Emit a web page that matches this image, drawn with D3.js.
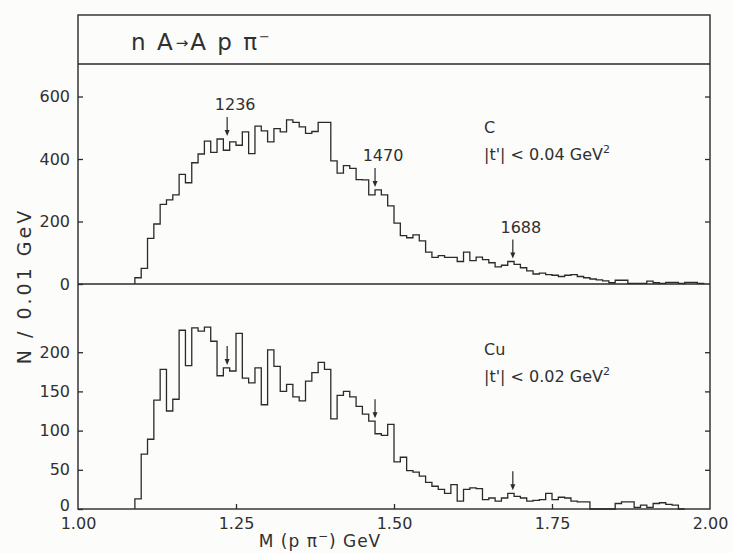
<!DOCTYPE html>
<html>
<head>
<meta charset="utf-8">
<script src="https://cdn.jsdelivr.net/npm/d3@7"></script>
<style>
  html, body { margin: 0; padding: 0; background: #fcfcfa; }
  svg { display: block; }
  text { font-family: "DejaVu Sans", "Liberation Sans", sans-serif; fill: #303030; }
</style>
</head>
<body>
<svg id="chart" width="733" height="553"></svg>
<script>
// Mass binning (GeV): lower edge of the first filled bin and the bin width
const firstBinLow = 1.09;
const binWidth = 0.01;

// Events per 0.01 GeV, carbon target, |t'| < 0.04 GeV^2 (bins from 1.09 GeV)
const carbonCounts = [
  20, 50, 146, 192, 255, 269, 285, 351, 324, 388,
  416, 457, 421, 464, 428, 455, 444, 487, 417, 505,
  490, 455, 497, 487, 525, 517, 503, 482, 488, 517,
  517, 394, 355, 379, 370, 334, 333, 285, 301, 285,
  250, 195, 155, 148, 157, 138, 102, 85, 91, 85,
  85, 72, 102, 75, 86, 78, 68, 55, 60, 72,
  63, 52, 42, 32, 35, 30, 28, 24, 28, 30,
  24, 20, 16, 13, 10, 4, 12, 12, 2, 2,
  2, 9, 4, 2, 5, 5, 2, 5, 5, 2
];

// Events per 0.01 GeV, copper target, |t'| < 0.02 GeV^2 (bins from 1.09 GeV)
const copperCounts = [
  13, 70, 89, 139, 178, 125, 140, 228, 183, 231,
  227, 232, 214, 170, 180, 176, 224, 167, 161, 180,
  133, 203, 182, 150, 159, 143, 138, 163, 174, 187,
  178, 115, 145, 150, 143, 131, 121, 112, 96, 94,
  108, 60, 66, 49, 47, 42, 34, 29, 25, 20,
  31, 10, 25, 27, 26, 12, 14, 10, 14, 20,
  16, 14, 10, 11, 12, 20, 12, 15, 14, 10,
  9, 9, 0, 0, 0, 0, 7, 9, 9, 2,
  5, 2, 7, 8, 6, 5, 0
];

// Axis ticks
const massTicks = [1.00, 1.25, 1.50, 1.75, 2.00];
const massTickLabels = ["1.00", "1.25", "1.50", "1.75", "2.00"];
const carbonTicks = [0, 200, 400, 600];
const copperTicks = [0, 50, 100, 150, 200];

// Marked resonance positions (MeV labels)
const resonanceMasses = [1.236, 1.470, 1.688];
const resonanceLabels = ["1236", "1470", "1688"];

const svg = d3.select("#chart");
const ink = "#2a2a2a";

const left = 78, right = 710;
const frameTop = 15, titleBottom = 64, middle = 284, bottom = 509;

const x = d3.scaleLinear().domain([1.0, 2.0]).range([left, right]);
const yTop = d3.scaleLinear().domain([0, 704]).range([middle, titleBottom]);
const yBot = d3.scaleLinear().domain([0, 287]).range([bottom, middle]);

// Step outline of a histogram
function histogramOutline(counts) {
  const pts = [[firstBinLow, 0]];
  counts.forEach((c, i) => {
    const lo = firstBinLow + i * binWidth;
    pts.push([lo, c], [lo + binWidth, c]);
  });
  pts.push([firstBinLow + counts.length * binWidth, 0]);
  return pts;
}

function drawHistogram(counts, yScale) {
  const line = d3.line().x(d => x(d[0])).y(d => yScale(d[1]));
  svg.append("path")
    .attr("d", line(histogramOutline(counts)))
    .attr("fill", "none")
    .attr("stroke", ink)
    .attr("stroke-width", 1.3)
    .attr("stroke-linejoin", "miter");
}

drawHistogram(carbonCounts, yTop);
drawHistogram(copperCounts, yBot);

// Frame, title box and panel divider
const frame = svg.append("g").attr("stroke", ink).attr("fill", "none");
frame.append("rect")
  .attr("x", left).attr("y", frameTop)
  .attr("width", right - left).attr("height", bottom - frameTop)
  .attr("stroke-width", 1.4);
frame.append("line")
  .attr("x1", left).attr("x2", right)
  .attr("y1", titleBottom).attr("y2", titleBottom)
  .attr("stroke-width", 1.4);
frame.append("line")
  .attr("x1", left).attr("x2", right)
  .attr("y1", middle).attr("y2", middle)
  .attr("stroke-width", 1.4);

// Vertical axes: inward ticks on both sides, labels on the left
function verticalAxes(scale, ticks, zeroLift) {
  const gl = svg.append("g")
    .attr("transform", `translate(${left},0)`)
    .call(d3.axisLeft(scale).tickValues(ticks).tickSize(-5).tickPadding(8).tickFormat(d3.format("d")));
  const gr = svg.append("g")
    .attr("transform", `translate(${right},0)`)
    .call(d3.axisRight(scale).tickValues(ticks.filter(t => t > 0)).tickSize(-5).tickFormat(""));
  [gl, gr].forEach(g => {
    g.select(".domain").remove();
    g.selectAll(".tick line").attr("stroke", ink).attr("stroke-width", 1.3);
  });
  gl.selectAll(".tick text")
    .attr("fill", "#303030")
    .style("font-size", "16px")
    .attr("y", d => d === 0 ? -zeroLift : 0);
}
verticalAxes(yTop, carbonTicks, 0);
verticalAxes(yBot, copperTicks, 4);

// Mass axis: inward ticks, labels below
const gx = svg.append("g")
  .attr("transform", `translate(0,${bottom})`)
  .call(d3.axisBottom(x).tickValues(massTicks).tickSize(-5).tickPadding(9)
    .tickFormat((d, i) => massTickLabels[i]));
gx.select(".domain").remove();
gx.selectAll(".tick line").attr("stroke", ink).attr("stroke-width", 1.3)
  .attr("opacity", (d, i) => (i === 0 || i === massTicks.length - 1) ? 0 : 1);
gx.selectAll(".tick text").attr("fill", "#303030").style("font-size", "16px");

// Title inside the top box
const title = svg.append("text")
  .attr("x", 131).attr("y", 50)
  .style("font-size", "23px")
  .style("letter-spacing", "2px");
title.append("tspan").text("n A");
title.append("tspan").attr("dx", 1).style("font-size", "15px").attr("dy", -2).text("→");
title.append("tspan").attr("dy", 2).text("A p π");
title.append("tspan").attr("dy", -9).style("font-size", "13px").text("−");

// Axis titles
svg.append("text")
  .attr("transform", "translate(31,286) rotate(-90)")
  .attr("text-anchor", "middle")
  .style("font-size", "19px")
  .style("letter-spacing", "3px")
  .text("N / 0.01 GeV");

const xTitle = svg.append("text")
  .attr("x", 320).attr("y", 547)
  .attr("text-anchor", "middle")
  .style("font-size", "17px")
  .style("letter-spacing", "1px");
xTitle.append("tspan").text("M (p π");
xTitle.append("tspan").attr("dy", -7).style("font-size", "12px").text("−");
xTitle.append("tspan").attr("dy", 7).text(") GeV");

// Target and momentum-transfer notes
function panelNote(yTarget, target, cut) {
  svg.append("text").attr("x", 484).attr("y", yTarget).style("font-size", "16px").text(target);
  const t = svg.append("text").attr("x", 484).attr("y", yTarget + 27).style("font-size", "16px");
  t.append("tspan").text("|t'| < " + cut + " GeV");
  t.append("tspan").attr("dy", -7).style("font-size", "11px").text("2");
}
panelNote(133, "C", "0.04");
panelNote(355, "Cu", "0.02");

// Resonance arrows (labelled in the carbon panel)
function localMax(counts, m) {
  const i = Math.floor((m - firstBinLow) / binWidth + 1e-9);
  return d3.max([counts[i - 1], counts[i], counts[i + 1]].filter(v => v !== undefined));
}
function drawArrows(counts, yScale, withLabels) {
  resonanceMasses.forEach((m, k) => {
    const xm = x(m);
    const tip = yScale(localMax(counts, m)) - 3;
    const top = tip - 19;
    svg.append("line")
      .attr("x1", xm).attr("x2", xm).attr("y1", top).attr("y2", tip - 4)
      .attr("stroke", ink).attr("stroke-width", 1.2);
    svg.append("path")
      .attr("d", `M${xm - 2.5},${tip - 6} L${xm + 2.5},${tip - 6} L${xm},${tip} Z`)
      .attr("fill", ink);
    if (withLabels) {
      svg.append("text")
        .attr("x", xm + 8).attr("y", top - 7)
        .attr("text-anchor", "middle")
        .style("font-size", "16px")
        .text(resonanceLabels[k]);
    }
  });
}
drawArrows(carbonCounts, yTop, true);
drawArrows(copperCounts, yBot, false);
</script>
</body>
</html>
